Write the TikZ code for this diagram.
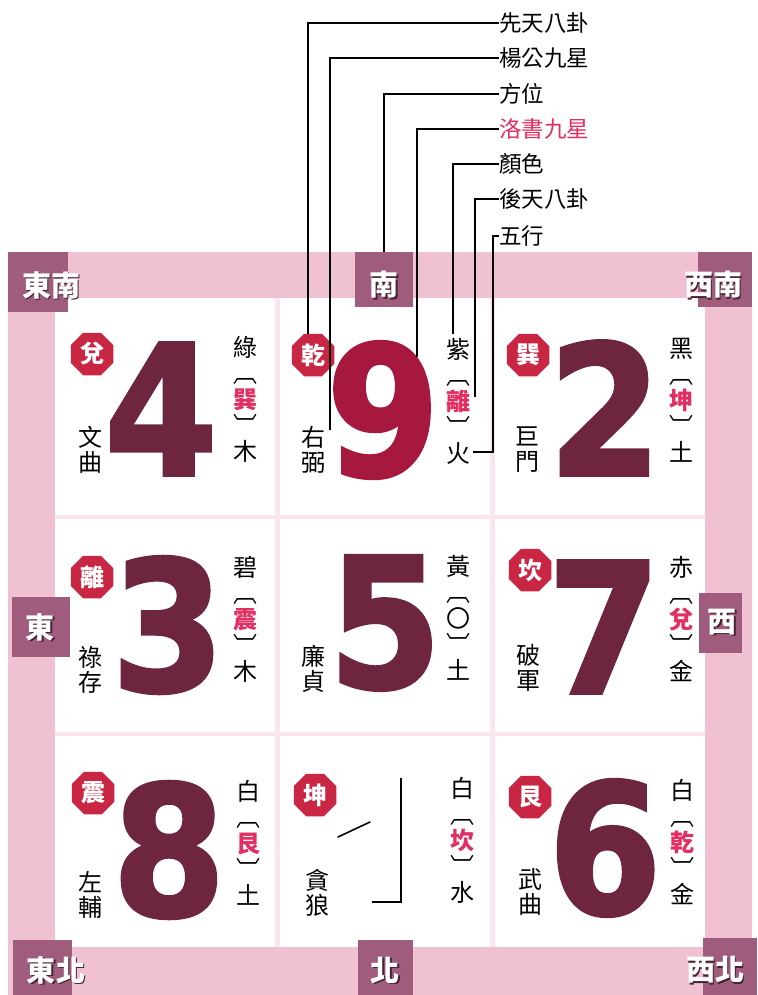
\documentclass[tikz,border=0pt]{standalone}
\usepackage{fontspec}
\usepackage{graphicx}
\usetikzlibrary{shapes.geometric}
\newfontfamily\cjk{Noto Sans CJK TC}
\newfontfamily\numfont[BoldFeatures={FakeBold=2}]{DejaVu Sans}
\definecolor{bandpink}{RGB}{240,192,211}
\definecolor{gridpink}{RGB}{250,230,238}
\definecolor{dirmauve}{RGB}{160,92,124}
\definecolor{dirshade}{RGB}{70,35,50}
\definecolor{badgered}{RGB}{200,38,66}
\definecolor{trired}{RGB}{226,46,96}
\definecolor{numbrown}{RGB}{110,38,64}
\definecolor{ninered}{RGB}{166,24,62}
\tikzset{
  dirbox/.style={fill=dirmauve, inner sep=0pt},
  dirtext/.style={text=white, inner sep=0pt, font=\cjk\bfseries\fontsize{29}{29}\selectfont},
  dirshadow/.style={dirtext, text=dirshade},
  badge/.style={regular polygon, regular polygon sides=8, fill=badgered, minimum size=46pt,
    inner sep=0pt, text=white, font=\cjk\bfseries\fontsize{24}{24}\selectfont},
  bignum/.style={text=numbrown, inner sep=0pt, font=\numfont\bfseries\fontsize{181}{181}\selectfont},
  vtext/.style={align=center, inner sep=0pt, font=\cjk\fontsize{24}{25}\selectfont},
  vcol/.style={align=center, inner sep=0pt, font=\cjk\fontsize{24}{26}\selectfont},
  leadlab/.style={anchor=west, inner sep=0pt, font=\cjk\fontsize{22.5}{22.5}\selectfont},
  leader/.style={draw=black, line width=1.2pt}
}
\newcommand{\dirlabel}[3]{%
  \node[dirshadow] at ([shift={(1.6,1.6)}]#2) {#3};
  \node[dirtext] (#1) at (#2) {#3};}
\newcommand{\vnum}[1]{\scalebox{0.9}[1]{#1}}
\newcommand{\tri}[1]{{\color{trired}\bfseries #1}}

\begin{document}
\begin{tikzpicture}[x=1pt,y=-1pt]
  \useasboundingbox (0,0) rectangle (757,995);
  \fill[white] (0,0) rectangle (757,995);

  % frame and cells
  \fill[bandpink] (8,252) rectangle (752,995);
  \fill[gridpink] (55,298) rectangle (705,947);
  \foreach \xa/\xb in {55/275,280/490,495/705}
    \foreach \ya/\yb in {298/515,519/732,736/947}
      \fill[white] (\xa,\ya) rectangle (\xb,\yb);

  % directions
  \node[dirbox, minimum width=60pt, minimum height=60pt] (boxSE) at (38,282) {};
  \node[dirbox, minimum width=58pt, minimum height=55pt] (boxS) at (384,279.5) {};
  \node[dirbox, minimum width=54pt, minimum height=55pt] (boxSW) at (725,279.5) {};
  \node[dirbox, minimum width=58pt, minimum height=60pt] (boxE) at (41,627) {};
  \node[dirbox, minimum width=43pt, minimum height=60pt] (boxW) at (720.5,623) {};
  \node[dirbox, minimum width=59pt, minimum height=55pt] (boxNE) at (42.5,967.5) {};
  \node[dirbox, minimum width=55pt, minimum height=55pt] (boxN) at (385.5,967.5) {};
  \node[dirbox, minimum width=54pt, minimum height=57pt] (boxNW) at (730,966.5) {};
  \dirlabel{tSE}{51,285}{東南}
  \dirlabel{tS}{384,285}{南}
  \dirlabel{tSW}{713,285}{西南}
  \dirlabel{tE}{40,627}{東}
  \dirlabel{tW}{722,622}{西}
  \dirlabel{tNE}{56,970}{東北}
  \dirlabel{tN}{385,970}{北}
  \dirlabel{tNW}{715,970}{西北}

  % row 1
  \node[badge] (bdui) at (92,354) {兌};
  \node[bignum] (n4) at (161,409) {\vnum{4}};
  \node[vtext] (s4) at (90,450) {文\\曲};
  \node[vcol] (c4) at (245,399) {綠\\︹\\\tri{巽}\\︺\\木};
  \node[badge] (bqian) at (313,355) {乾};
  \node[bignum, text=ninered] (n9) at (383,410) {\vnum{9}};
  \node[vtext] (s9) at (313,450) {右\\弼};
  \node[vcol] (c9) at (458,401) {紫\\︹\\\tri{離}\\︺\\火};
  \node[badge] (bxun) at (528,355) {巽};
  \node[bignum] (n2) at (605,408) {\vnum{2}};
  \node[vtext] (s2) at (527,450) {巨\\門};
  \node[vcol] (c2) at (681,400) {黑\\︹\\\tri{坤}\\︺\\土};

  % row 2
  \node[badge] (bli) at (92,577) {離};
  \node[bignum] (n3) at (168,625) {\vnum{3}};
  \node[vtext] (s3) at (90,670) {祿\\存};
  \node[vcol] (c3) at (245,619) {碧\\︹\\\tri{震}\\︺\\木};
  \node[bignum] (n5) at (385,623) {\vnum{5}};
  \node[vtext] (s5) at (313,669) {廉\\貞};
  \node[vcol] (c5) at (458,618) {黃\\︹\\〇\\︺\\土};
  \node[badge] (bkan) at (530,570) {坎};
  \node[bignum] (n7) at (604,627) {\vnum{7}};
  \node[vtext] (s7) at (528,668) {破\\軍};
  \node[vcol] (c7) at (681,619) {赤\\︹\\\tri{兌}\\︺\\金};

  % row 3
  \node[badge] (bzhen) at (93,793) {震};
  \node[bignum] (n8) at (169,850) {\vnum{8}};
  \node[vtext] (s8) at (90,895) {左\\輔};
  \node[vcol] (c8) at (248,843) {白\\︹\\\tri{艮}\\︺\\土};
  \node[badge] (bkun) at (315,795) {坤};
  \draw[line width=1.6pt, line cap=round] (338,837) -- (370,822);
  \draw[line width=1.4pt] (401,778) -- (401,902) -- (372,902);
  \node[vtext] (s1) at (317,893) {貪\\狼};
  \node[vcol] (c1) at (462,840) {白\\︹\\\tri{坎}\\︺\\水};
  \node[badge] (bgen) at (530,797) {艮};
  \node[bignum] (n6) at (605,848) {\vnum{6}};
  \node[vtext] (s6) at (530,892) {武\\曲};
  \node[vcol] (c6) at (682,842) {白\\︹\\\tri{乾}\\︺\\金};

  % leaders
  \node[leadlab] (l1) at (499,23) {先天八卦};
  \node[leadlab] (l2) at (499,58) {楊公九星};
  \node[leadlab] (l3) at (499,94) {方位};
  \node[leadlab, text=trired] (l4) at (499,129) {洛書九星};
  \node[leadlab] (l5) at (499,164) {顏色};
  \node[leadlab] (l6) at (499,199) {後天八卦};
  \node[leadlab] (l7) at (499,236) {五行};
  \coordinate (e1) at (308,334);
  \coordinate (e2) at (330,430);
  \coordinate (e4) at (417,357);
  \coordinate (e5) at (453,334);
  \coordinate (e6) at (475,397);
  \coordinate (e7) at (493,452);
  \coordinate (huo) at (473,452);
  \draw[leader] (l1.west) -| (e1);
  \draw[leader] (l2.west) -| (e2);
  \draw[leader] (l3.west) -| (boxS.north);
  \draw[leader] (l4.west) -| (e4);
  \draw[leader] (l5.west) -| (e5);
  \draw[leader] (l6.west) -| (e6);
  \draw[leader] (l7.west) -| (e7) -- (huo);
\end{tikzpicture}
\end{document}
